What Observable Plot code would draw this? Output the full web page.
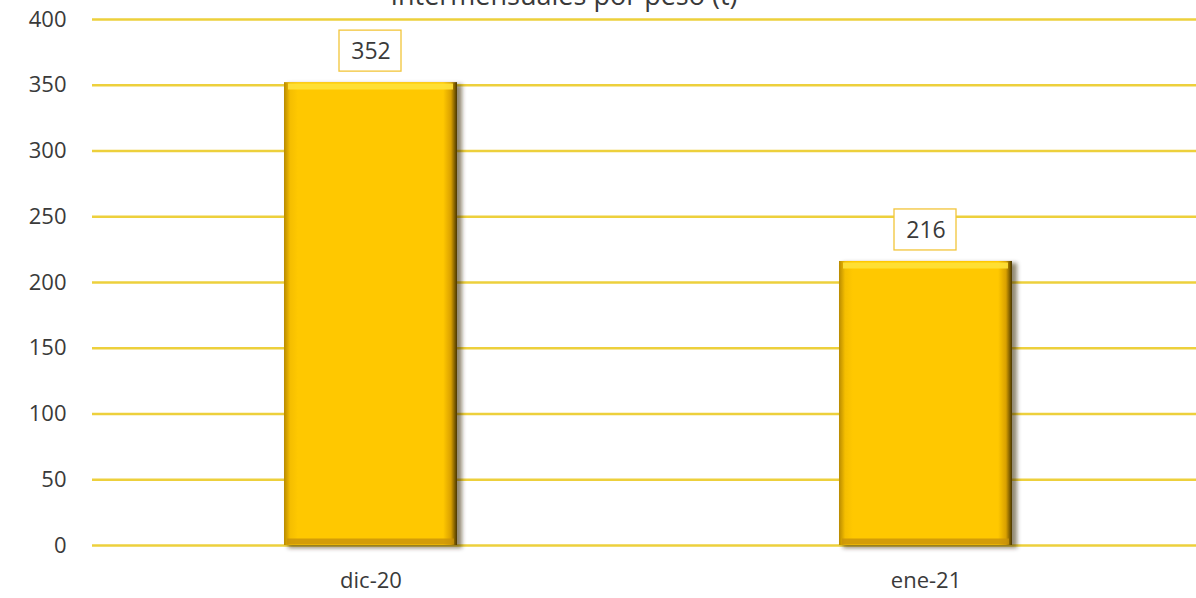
<!DOCTYPE html>
<html>
<head>
<meta charset="utf-8">
<script src="https://cdn.jsdelivr.net/npm/d3@7"></script>
<script src="https://cdn.jsdelivr.net/npm/@observablehq/plot@0.6"></script>
<style>
  html, body { margin: 0; padding: 0; background: #fff; overflow: hidden; width: 1196px; height: 598px; }
  #wrap { position: relative; width: 1196px; height: 598px; overflow: hidden; }
  #title { position: absolute; top: -19px; left: 0; width: 1128px; text-align: center; line-height: 27px;
           font-family: "Open Sans", sans-serif; font-size: 27px; color: #3a3a3a; white-space: nowrap; }
  #chart { position: absolute; top: 0; left: 0; }
  #chart svg { max-width: none !important; }
</style>
</head>
<body>
<div id="wrap">
  <div id="chart"></div>
  <div id="title">Intermensuales por peso (t)</div>
</div>
<script>
const categories = ["dic-20", "ene-21"];
const values = [352, 216];
const yTicks = [0, 50, 100, 150, 200, 250, 300, 350, 400];

const data = categories.map((c, i) => ({ month: c, value: values[i] }));

const font = "Open Sans, sans-serif";
const barInset = 191;

const plot = Plot.plot({
  width: 1203,
  height: 598,
  marginTop: 19,
  marginBottom: 53,
  marginLeft: 92,
  marginRight: 0,
  style: { fontFamily: font, fontSize: "22px", color: "#3a3a3a", background: "transparent", maxWidth: "none" },
  x: { domain: categories, padding: 0, label: null },
  y: { domain: [0, 400], ticks: yTicks, label: null },
  marks: [
    Plot.ruleY(yTicks, { stroke: "#EDD03C", strokeWidth: 2.4 }),
    Plot.axisY({ ticks: yTicks, tickSize: 0, tickPadding: 26, fontSize: 22, fill: "#3a3a3a" }),
    Plot.axisX({ tickSize: 0, tickPadding: 27, fontSize: 22, fill: "#3a3a3a" }),
    // drop shadow
    Plot.barY(data, { x: "month", y: "value", insetLeft: barInset + 4, insetRight: barInset - 5, insetTop: 2, insetBottom: -3,
      fill: "#3b2c00", fillOpacity: 0.55, className: "shadow" }),
    // main bar
    Plot.barY(data, { x: "month", y: "value", insetLeft: barInset, insetRight: barInset, fill: "url(#barGrad)" }),
    // top bevel highlight
    Plot.tickY(data, { x: "month", y: "value", dy: 4, insetLeft: barInset + 4, insetRight: barInset + 4, stroke: "#FFE13A", strokeWidth: 6, strokeOpacity: 0.9 }),
    // bottom bevel
    Plot.tickY(data, { x: "month", y: () => 0, dy: -4, insetLeft: barInset + 3, insetRight: barInset + 3, stroke: "#C8920A", strokeWidth: 6, strokeOpacity: 0.8 }),
    // label boxes
    Plot.barY(data, { x: "month", y1: "value", y2: "value", insetTop: -52, insetBottom: 11,
      insetLeft: 246, insetRight: 247, fill: "#fff", stroke: "#F2C53A", strokeWidth: 1.3 }),
    Plot.text(data, { x: "month", y: "value", text: d => String(d.value), dy: -31, fontSize: 23, fill: "#3a3a3a" })
  ]
});

// gradient definitions for the bevelled bars
const svgNS = "http://www.w3.org/2000/svg";
const defs = document.createElementNS(svgNS, "defs");
defs.innerHTML = `
  <linearGradient id="barGrad" x1="0" x2="1" y1="0" y2="0">
    <stop offset="0" stop-color="#B88A00"/>
    <stop offset="0.035" stop-color="#F5BE00"/>
    <stop offset="0.08" stop-color="#FFC800"/>
    <stop offset="0.92" stop-color="#FFC800"/>
    <stop offset="0.965" stop-color="#D9A000"/>
    <stop offset="1" stop-color="#4a3700"/>
  </linearGradient>
  <filter id="blur" x="-10%" y="-10%" width="130%" height="130%">
    <feGaussianBlur stdDeviation="2"/>
  </filter>`;
plot.insertBefore(defs, plot.firstChild);
const sh = plot.querySelector(".shadow");
if (sh) sh.setAttribute("filter", "url(#blur)");

document.getElementById("chart").appendChild(plot);
</script>
</body>
</html>
